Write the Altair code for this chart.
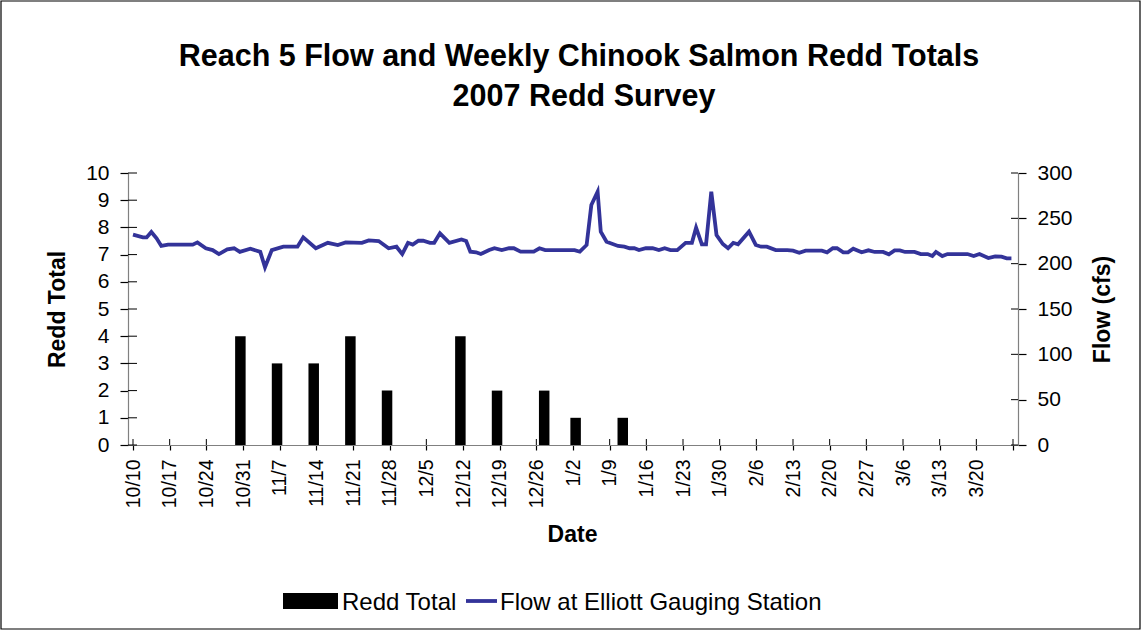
import altair as alt
import pandas as pd

# Flow at Elliott gauging station: days after Oct 10, flow in cfs
flow_day = [0.0, 1.9, 2.6, 3.5, 4.5, 5.4, 6.7, 11.4, 12.3, 13.9, 15.2, 16.4, 18.0, 19.3,
            20.4, 22.4, 24.3, 25.2, 26.5, 28.7, 31.4, 32.5, 34.9, 37.2, 39.1, 40.6,
            43.7, 45.0, 46.9, 48.8, 50.3, 51.4, 52.5, 53.4, 54.5, 55.4, 56.7, 57.5,
            58.6, 60.4, 62.7, 63.6, 64.4, 65.5, 66.4, 68.0, 69.0, 70.4, 71.8, 72.7,
            74.0, 76.5, 77.6, 78.7, 84.3, 85.3, 86.6, 87.5, 88.7, 89.3, 90.4, 92.6,
            93.8, 94.8, 95.7, 96.6, 97.9, 99.2, 100.4, 101.5, 102.6, 103.9, 105.5,
            106.7, 107.5, 108.6, 109.4, 110.4, 111.4, 112.6, 113.6, 114.6, 115.5,
            117.6, 118.9, 119.9, 121.0, 122.7, 124.9, 126.0, 127.2, 128.4, 131.5,
            132.5, 133.6, 134.4, 135.6, 136.5, 137.5, 139.1, 140.4, 141.6, 143.2,
            144.3, 145.4, 146.4, 147.4, 149.2, 150.4, 151.7, 152.6, 153.3, 154.5,
            155.5, 159.3, 160.5, 161.6, 163.3, 164.6, 165.8, 166.8, 167.7]
flow_cfs = [232, 229, 229, 235, 228, 219.5, 221, 221, 223.5, 217, 215, 210.6, 215.8, 217,
            213, 216.5, 213, 196, 215, 218.7, 218.7, 229, 217, 223, 220.6, 223.5,
            223, 225.7, 225, 217, 218.7, 210.6, 223, 221, 225.3, 225.3, 223, 223,
            233.5, 223, 226.8, 225, 213.2, 212.5, 210.6, 215, 217, 215, 217, 217,
            213.2, 213.2, 217, 215, 215, 213.2, 220.6, 264.7, 279.4, 235.3, 224.2, 219.5,
            218.7, 217, 217, 215, 217, 217, 215, 217, 215, 215, 223,
            223, 239.7, 221.3, 221.3, 279.4, 231.6, 221.7, 217, 223, 221.3,
            235.3, 220.6, 218.7, 218.7, 215, 215, 214.3, 212, 214.3, 214.3,
            212.5, 217, 217, 212.5, 212.5, 216.5, 212.5, 214.7, 212.9, 212.9,
            210.3, 214.7, 214.7, 212.9, 212.9, 210.6, 210.6, 208.4, 212.9, 208.4,
            210.6, 210.6, 208.4, 210.6, 206.2, 208, 207.7, 205.9, 205.9]

# Weekly redd counts: survey day (days after Oct 10) and total redds
redd_day = [20.5, 27.5, 34.5, 41.5, 48.5, 62.5, 69.5, 78.5, 84.5, 93.5]
redd_total = [4, 3, 3, 4, 2, 4, 2, 2, 1, 1]

# Axis ticks
tick_days = list(range(0, 169, 7))
tick_labels = ["10/10", "10/17", "10/24", "10/31", "11/7", "11/14", "11/21", "11/28",
               "12/5", "12/12", "12/19", "12/26", "1/2", "1/9", "1/16", "1/23", "1/30",
               "2/6", "2/13", "2/20", "2/27", "3/6", "3/13", "3/20", ""]
redd_ticks = list(range(0, 11))
flow_ticks = list(range(0, 301, 50))

title_lines = ["Reach 5 Flow and Weekly Chinook Salmon Redd Totals", "2007 Redd Survey"]
legend_labels = ["Redd Total", "Flow at Elliott Gauging Station"]

FONT = "Liberation Sans"
LINE_COLOR = "#333399"
W, H = 890, 272

flow_df = pd.DataFrame({"day": flow_day, "flow": flow_cfs})
redd_df = pd.DataFrame({"day": redd_day, "redd": redd_total})

x_scale = alt.Scale(domain=[0, 168], nice=False, zero=False)
redd_scale = alt.Scale(domain=[0, 10], nice=False)
flow_scale = alt.Scale(domain=[0, 300], nice=False)

label_array = "[" + ",".join("'" + t + "'" for t in tick_labels) + "]"
x_axis = alt.Axis(
    values=tick_days, labelExpr=label_array + "[round(datum.value / 7)]",
    labelAngle=270, labelFontSize=19.5, labelPadding=9, tickSize=5,
    title="Date", titleX=444, titleY=96, titleBaseline="alphabetic",
)

left_axis = alt.Axis(
    values=redd_ticks, orient="left", tickSize=8, labelPadding=11, labelFontSize=21,
    title="Redd Total", titleAngle=270, titleX=-64, titleY=136, titleAlign="center",
    titleBaseline="alphabetic",
)
right_axis = alt.Axis(
    values=flow_ticks, orient="right", tickSize=8, labelPadding=11, labelFontSize=21,
    title="Flow (cfs)", titleAngle=270, titleX=91, titleY=136, titleAlign="center",
    titleBaseline="alphabetic",
)

bars = alt.Chart(redd_df).mark_bar(size=10.5, color="black").encode(
    x=alt.X("day:Q", scale=x_scale, axis=x_axis),
    y=alt.Y("redd:Q", scale=redd_scale, axis=left_axis),
)
# inner halves of the crossing tick marks
left_inner = alt.Chart(pd.DataFrame({"redd": redd_ticks})).mark_rule(color="black").encode(
    y=alt.Y("redd:Q", scale=redd_scale, axis=left_axis),
    x=alt.value(0), x2=alt.value(9),
)
x_inner = alt.Chart(pd.DataFrame({"day": tick_days})).mark_rule(color="black").encode(
    x=alt.X("day:Q", scale=x_scale, axis=x_axis),
    y=alt.value(H - 6), y2=alt.value(H),
)
left_part = alt.layer(bars, left_inner, x_inner)

line = alt.Chart(flow_df).mark_line(color=LINE_COLOR, strokeWidth=3.8).encode(
    x=alt.X("day:Q", scale=x_scale, axis=x_axis),
    y=alt.Y("flow:Q", scale=flow_scale, axis=right_axis),
)
right_inner = alt.Chart(pd.DataFrame({"flow": flow_ticks})).mark_rule(color="black").encode(
    y=alt.Y("flow:Q", scale=flow_scale, axis=right_axis),
    x=alt.value(W - 7), x2=alt.value(W),
)
right_part = alt.layer(line, right_inner)

one = alt.Data(values=[{"k": 1}])

title1 = alt.Chart(one).mark_text(
    font=FONT, fontSize=30.5, fontWeight="bold", align="center", baseline="alphabetic"
).encode(x=alt.value(451), y=alt.value(-107), text=alt.value(title_lines[0]))
title2 = alt.Chart(one).mark_text(
    font=FONT, fontSize=30.5, fontWeight="bold", align="center", baseline="alphabetic"
).encode(x=alt.value(456), y=alt.value(-67), text=alt.value(title_lines[1]))

# legend below the chart
leg_rect = alt.Chart(one).mark_rect(color="black").encode(
    x=alt.value(155), x2=alt.value(210), y=alt.value(420), y2=alt.value(436)
)
leg_text1 = alt.Chart(one).mark_text(
    font=FONT, fontSize=24, align="left", baseline="alphabetic", color="black"
).encode(x=alt.value(214), y=alt.value(437), text=alt.value(legend_labels[0]))
leg_line = alt.Chart(one).mark_rule(color=LINE_COLOR, strokeWidth=3.8).encode(
    x=alt.value(338), x2=alt.value(369), y=alt.value(428)
)
leg_text2 = alt.Chart(one).mark_text(
    font=FONT, fontSize=24, align="left", baseline="alphabetic", color="black"
).encode(x=alt.value(372), y=alt.value(437), text=alt.value(legend_labels[1]))

frame = alt.Chart(one).mark_rect(fill="transparent", stroke="black", strokeWidth=1.2).encode(
    x=alt.value(-127), x2=alt.value(1012), y=alt.value(-172), y2=alt.value(456)
)

chart = alt.layer(
    left_part, right_part,
    title1, title2, leg_rect, leg_text1, leg_line, leg_text2, frame,
).resolve_scale(y="independent").properties(
    width=W, height=H,
    autosize=alt.AutoSizeParams(type="none"),
    padding={"left": 128, "top": 173, "right": 125, "bottom": 186},
    background="white",
).configure_view(stroke="transparent").configure_axis(
    grid=False, domainColor="#808080", domainWidth=1.2, tickColor="black", tickWidth=1.2,
    labelColor="black", labelFont=FONT, titleFont=FONT, titleFontSize=23,
    titleFontWeight="bold", titleColor="black",
)

chart.save("out.html", embed_options={"renderer": "svg", "actions": False})
